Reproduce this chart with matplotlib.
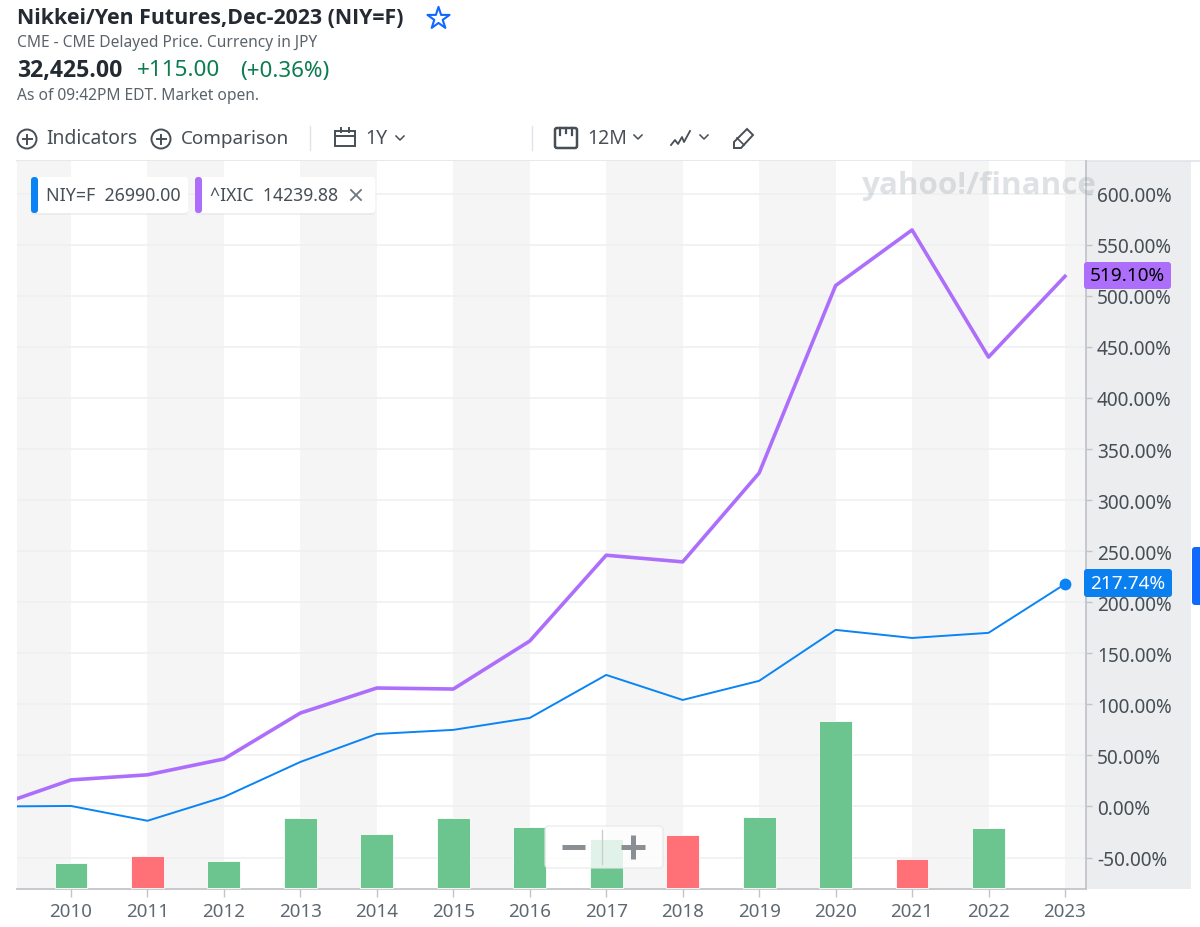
import matplotlib
matplotlib.use('Agg')
import matplotlib.pyplot as plt
from matplotlib.patches import Rectangle, FancyBboxPatch, Circle, Polygon

plt.rcParams['font.family'] = ['Noto Sans', 'DejaVu Sans']

# DATA
anios = list(range(2009, 2024))
etiquetas_x = list(range(2010, 2024))
nasdaq = [0, 26, 31, 46.5, 91.5, 116, 115, 162, 246, 239.5, 326.5, 510, 564.5, 440, 519.10]
nikkei = [0, 0.5, -14, 9.3, 43.6, 71, 75, 86.7, 128.8, 104.3, 123, 172.9, 165, 170, 217.74]
anios_vol = list(range(2010, 2023))
volumen = [25, 32, 27, 70, 54, 70, 61, 49, 53, 71, 167, 29, 60]
sube = [True, False, True, True, True, True, True, True, False, True, True, False, True]
ticks_y = [-50, 0, 50, 100, 150, 200, 250, 300, 350, 400, 450, 500, 550, 600]

AZUL = '#0a84f5'
MORADO = '#ad6ffb'
GRIS_TXT = '#464e56'
NEGRITA = ['Open Sans', 'DejaVu Sans']

fig = plt.figure(figsize=(12, 9.28), dpi=100)


def caja(x0, y0, x1, y1):
    # pixeles de la imagen a fraccion de figura
    return [x0/1200, 1-y1/928, (x1-x0)/1200, (y1-y0)/928]


# fondo y capa de controles en pixeles
fondo = fig.add_axes([0, 0, 1, 1], zorder=-1)
fondo.set_xlim(0, 1200)
fondo.set_ylim(927, -1)
fondo.axis('off')
fondo.add_patch(Rectangle((1086, 161), 105, 728, color='#ebedef', lw=0))
fondo.add_patch(FancyBboxPatch((1192, 547), 12, 58, boxstyle='round,pad=0,rounding_size=3',
                               color='#0f69ff', lw=0))
fondo.plot([17, 1200], [161, 161], color='#e0e4e9', lw=1.2)

# GRAFICA
ax = fig.add_axes(caja(17, 162, 1086, 890), zorder=1)
ax.set_xlim(2009.294, 2023.275)
ax.set_ylim(-80.8, 632)
for a in range(2011, 2024, 2):
    ax.axvspan(a, a+1, color='#f5f5f6', lw=0, zorder=0)
ax.axvspan(2009, 2010, color='#f5f5f6', lw=0, zorder=0)
for v in ticks_y:
    ax.axhline(v, color='#eef0f2', lw=1.2, zorder=1)

ax.plot(anios, nasdaq, color=MORADO, lw=2.6, zorder=3)
ax.plot(anios, nikkei, color=AZUL, lw=1.4, zorder=3)
ax.plot(anios[-1], nikkei[-1], 'o', color=AZUL, ms=8.5, zorder=4, mew=0)

# volumen en su propia escala
ax2 = ax.twinx()
ax2.set_zorder(2)
ax2.patch.set_visible(False)
ax2.set_ylim(-1, 727)
ax2.axis('off')
colores = ['#6cc48f' if s else '#ff7176' for s in sube]
ax2.bar(anios_vol, volumen, width=0.43, color=colores, edgecolor='white', linewidth=0.6)

# twinx manda los ticks de ax a la izquierda, van despues
ax.yaxis.tick_right()
ax.set_yticks(ticks_y)
ax.set_yticklabels(['%.2f%%' % v for v in ticks_y])
ax.set_xticks(etiquetas_x)
ax.tick_params(axis='y', length=4, width=1, color='#c1c5ca', labelsize=13.7, labelcolor=GRIS_TXT, pad=4)
ax.tick_params(axis='x', length=5.5, width=1, color='#c1c5ca', labelsize=13.5, labelcolor='#5f6871', pad=4)
for s in ['top', 'left']:
    ax.spines[s].set_visible(False)
for s in ['right', 'bottom']:
    ax.spines[s].set_color('#c1c5ca')
    ax.spines[s].set_linewidth(1.3)

# controles
top = fig.add_axes([0, 0, 1, 1], zorder=5)
top.set_xlim(0, 1200)
top.set_ylim(927, -1)
top.axis('off')


def txt(x, y, s, px, color=GRIS_TXT, **kw):
    top.text(x, y, s, fontsize=px*0.72, color=color, va='center', **kw)


def circulo_mas(x, y):
    top.add_patch(Circle((x, y), 9.5, fill=False, ec=GRIS_TXT, lw=1.4))
    top.plot([x-4.5, x+4.5], [y, y], color=GRIS_TXT, lw=1.4)
    top.plot([x, x], [y-4.5, y+4.5], color=GRIS_TXT, lw=1.4)


def flecha(x, y):
    top.plot([x-4, x, x+4], [y-2, y+2, y-2], color=GRIS_TXT, lw=1.1)


txt(17, 17, 'Nikkei/Yen Futures,Dec-2023 (NIY=F)', 21.4, color='#232a31', fontweight='bold', family=NEGRITA)
top.scatter([437.5], [18], marker='*', s=280, facecolor='white', edgecolor='#0f69ff', linewidth=1.5)
txt(17, 42, 'CME - CME Delayed Price. Currency in JPY', 15.5, color='#5b636a')
txt(17, 70, '32,425.00', 23, color='#232a31', fontweight='bold', family=NEGRITA)
txt(137, 70, '+115.00', 22.5, color='#0b7d4f')
txt(240, 70, '(+0.36%)', 22.4, color='#0b7d4f')
txt(17, 95, 'As of 09:42PM EDT. Market open.', 15.6, color='#5b636a')

circulo_mas(27, 139)
txt(46, 138, 'Indicators', 19.3)
circulo_mas(161, 139)
txt(181, 138, 'Comparison', 18.9)
top.plot([309.5, 309.5], [126, 150], color='#e0e4e9', lw=1)
top.add_patch(Rectangle((335, 131), 20, 15, fill=False, ec=GRIS_TXT, lw=1.4))
top.plot([335, 355], [136, 136], color=GRIS_TXT, lw=1.4)
top.plot([341, 341], [128, 132], color=GRIS_TXT, lw=1.4)
top.plot([349, 349], [128, 132], color=GRIS_TXT, lw=1.4)
txt(365, 138, '1Y', 19.5)
flecha(400, 138)
top.plot([531.5, 531.5], [126, 150], color='#e0e4e9', lw=1)
top.add_patch(FancyBboxPatch((555, 128), 22, 20, boxstyle='round,pad=0,rounding_size=2',
                             fill=False, ec=GRIS_TXT, lw=1.8))
for xm, ym in [(560, 135), (566, 133), (572, 135)]:
    top.plot([xm, xm], [128, ym], color=GRIS_TXT, lw=1.6)
txt(587, 138, '12M', 19.5)
flecha(638, 137)
top.plot([671, 675, 678, 682, 684, 690], [145, 140, 144, 137, 142, 131], color=GRIS_TXT, lw=1.3)
flecha(704, 137)
top.add_patch(Polygon([[734, 142], [747, 129], [753, 135], [741, 148], [734, 148]],
                      closed=True, fill=False, ec=GRIS_TXT, lw=1.4))
top.plot([737, 744], [138, 145], color=GRIS_TXT, lw=1.2)

txt(862, 185, 'yahoo!/finance', 31.4, color='#8c96a0', fontweight='bold', family=NEGRITA, alpha=0.27)


def ficha(x0, x1, color):
    top.add_patch(FancyBboxPatch((x0, 179), x1-x0, 36, boxstyle='round,pad=0,rounding_size=3',
                                 color='#e4e6e8', lw=0, alpha=0.6))
    top.add_patch(FancyBboxPatch((x0, 177), x1-x0, 36, boxstyle='round,pad=0,rounding_size=3',
                                 color='white', lw=0))
    top.add_patch(FancyBboxPatch((x0, 177), 7, 36, boxstyle='round,pad=0,rounding_size=3',
                                 color=color, lw=0))


ficha(31, 188, AZUL)
txt(46, 195, 'NIY=F  26990.00', 17.8)
ficha(195, 375, MORADO)
txt(210, 195, '^IXIC  14239.88', 17.6)
top.plot([351, 361], [190, 200], color='#6e7780', lw=1.3)
top.plot([351, 361], [200, 190], color='#6e7780', lw=1.3)

# etiquetas de ultimo valor
top.add_patch(FancyBboxPatch((1084, 262), 87, 27, boxstyle='round,pad=0,rounding_size=3',
                             color=MORADO, lw=0))
txt(1090, 275, '%.2f%%' % nasdaq[-1], 19, color='black')
top.add_patch(FancyBboxPatch((1084, 569), 88, 28, boxstyle='round,pad=0,rounding_size=3',
                             color='#0a80f0', lw=0))
txt(1090, 583, '%.2f%%' % nikkei[-1], 19, color='white')

# zoom
top.add_patch(FancyBboxPatch((545, 826), 118, 42, boxstyle='round,pad=0,rounding_size=4',
                             fc='white', ec='#e6e8ea', lw=1, alpha=0.8))
top.plot([562, 585], [847, 847], color='#8a8f94', lw=3.6, solid_capstyle='butt')
top.plot([621, 645], [847, 847], color='#8a8f94', lw=3.6, solid_capstyle='butt')
top.plot([633, 633], [835, 859], color='#8a8f94', lw=3.6, solid_capstyle='butt')
top.plot([602, 602], [830, 864], color='#c9cdd1', lw=1)

fig.savefig('out.png', dpi=100)
